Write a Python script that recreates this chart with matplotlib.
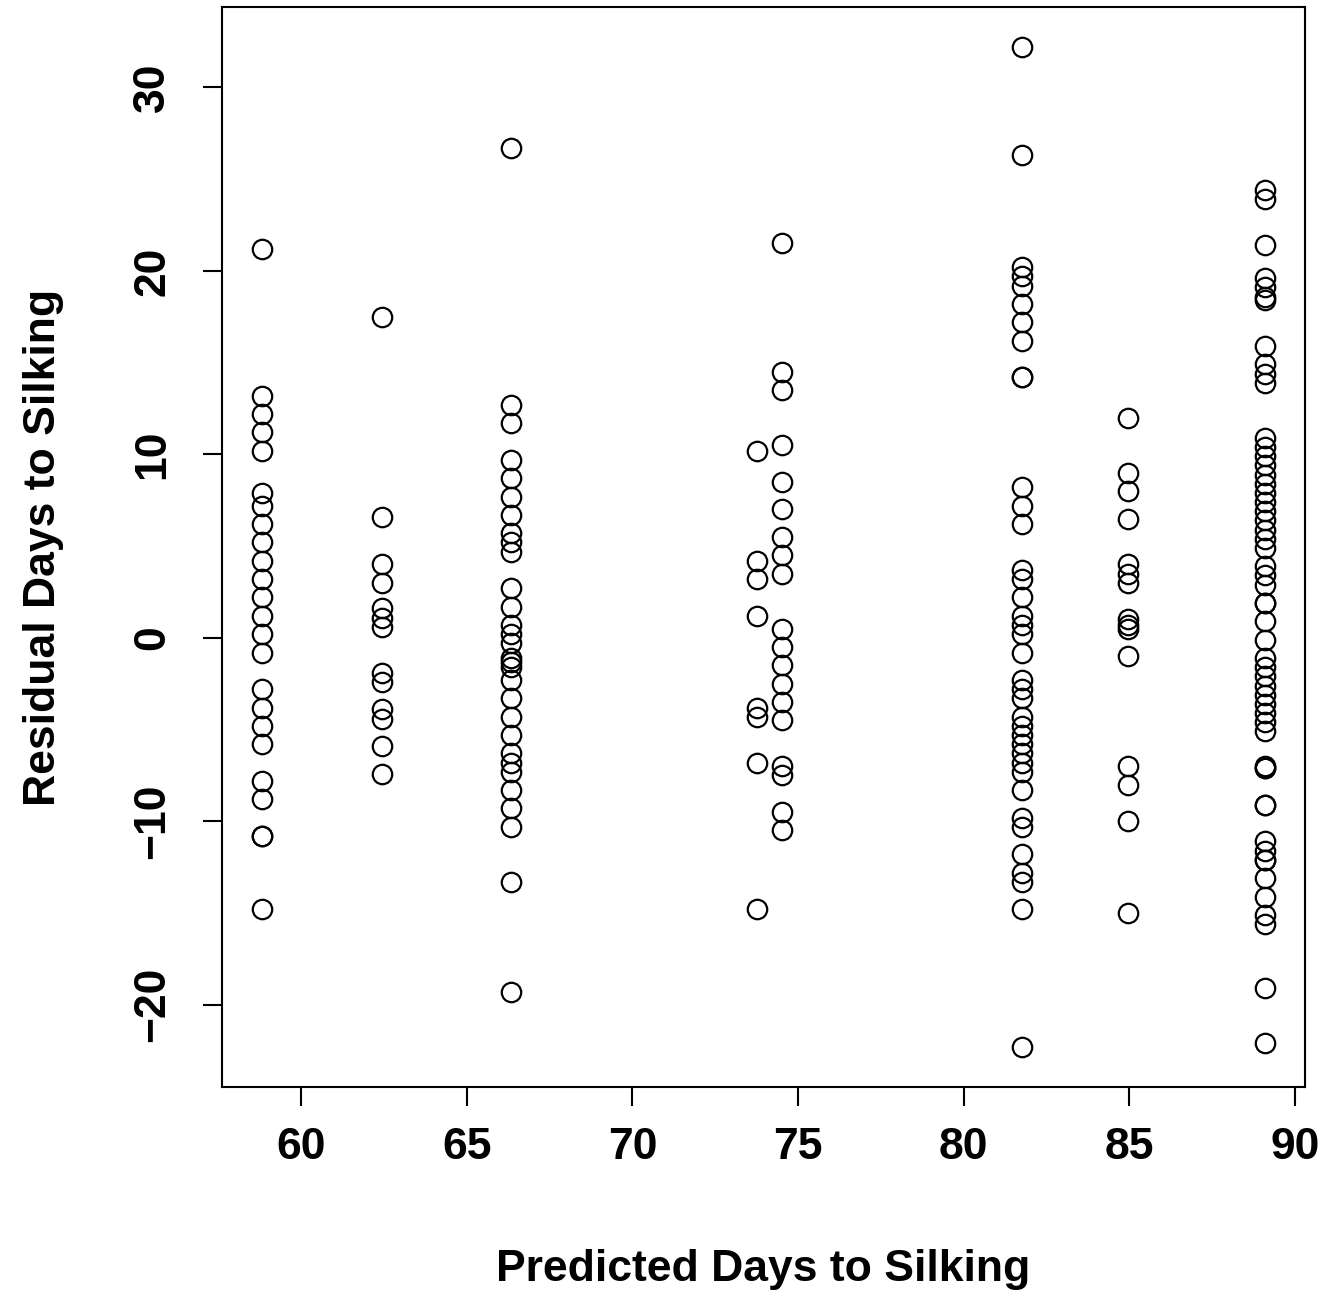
import matplotlib
matplotlib.use('Agg')
import matplotlib.pyplot as plt
import numpy as np

plt.rcParams['font.family'] = ['Liberation Sans', 'DejaVu Sans']
plt.rcParams['font.weight'] = 'bold'

# predicted values (one column of residuals each)
pred = [58.82, 62.45, 66.32, 73.76, 74.51, 81.77, 84.97, 89.09]

res_588 = [21.2, 13.2, 12.2, 11.2, 10.2, 7.9, 7.2, 6.2, 5.2, 4.2, 3.2, 2.2, 1.2, 0.2,
           -0.8, -2.8, -3.8, -4.8, -5.8, -7.8, -8.8, -10.8, -10.8, -14.8]
res_625 = [17.5, 6.6, 4.0, 3.0, 1.6, 1.1, 0.6, -1.9, -2.4, -3.9, -4.4, -5.9, -7.4]
res_663 = [26.7, 12.7, 11.7, 9.7, 8.7, 7.7, 6.7, 5.7, 5.2, 4.7, 2.7, 1.7, 0.7, 0.2,
           -0.3, -1.1, -1.3, -1.6, -2.3, -3.3, -4.3, -5.3, -6.3, -6.8, -7.3, -8.3,
           -9.3, -10.3, -13.3, -19.3]
res_738 = [10.2, 4.2, 3.2, 1.2, -3.8, -4.3, -6.8, -14.8]
res_745 = [21.5, 14.5, 13.5, 10.5, 8.5, 7.0, 5.5, 4.5, 3.5, 0.5, -0.5, -1.5, -2.5,
           -3.5, -4.5, -7.0, -7.5, -9.5, -10.5]
res_818 = [32.2, 26.3, 20.2, 19.7, 19.2, 18.2, 17.2, 16.2, 14.2, 14.2, 8.2, 7.2, 6.2,
           3.7, 3.2, 2.2, 1.2, 0.7, 0.2, -0.8, -2.3, -2.8, -3.3, -4.3, -4.8, -5.3,
           -5.8, -6.3, -6.8, -7.3, -8.3, -9.8, -10.3, -11.8, -12.8, -13.3, -14.8, -22.3]
res_850 = [12.0, 9.0, 8.0, 6.5, 4.0, 3.5, 3.0, 1.0, 0.7, 0.5, -1.0, -7.0, -8.0, -10.0, -15.0]
res_891 = [24.4, 23.9, 21.4, 19.6, 19.1, 18.6, 18.4, 15.9, 14.9, 14.4, 13.9, 10.9, 10.4,
           9.9, 9.4, 8.9, 8.4, 7.9, 7.4, 6.9, 6.4, 5.9, 5.4, 4.9, 3.9, 3.4, 2.9, 1.9,
           1.9, 0.9, -0.1, -1.1, -1.6, -2.1, -2.6, -3.1, -3.6, -4.1, -4.6, -5.1, -7.0,
           -7.1, -7.1, -9.1, -9.1, -11.1, -11.6, -12.1, -12.1, -13.1, -14.1, -15.1,
           -15.6, -19.1, -22.1]

residuals = [res_588, res_625, res_663, res_738, res_745, res_818, res_850, res_891]

x = np.concatenate([[p] * len(r) for p, r in zip(pred, residuals)])
y = np.concatenate(residuals)

W, H = 1326, 1308
fig = plt.figure(figsize=(W / 100, H / 100), dpi=100)
ax = fig.add_axes([222 / W, 1 - 1087 / H, (1305 - 222) / W, (1087 - 7) / H])

ax.plot(x, y, linestyle='none', marker='o', markersize=14, markerfacecolor='none',
        markeredgecolor='black', markeredgewidth=1.6)

# R style 4% padding
xr = x.max() - x.min()
yr = y.max() - y.min()
ax.set_xlim(x.min() - 0.04 * xr, x.max() + 0.04 * xr)
ax.set_ylim(y.min() - 0.04 * yr, y.max() + 0.04 * yr)

ax.set_xticks([60, 65, 70, 75, 80, 85, 90])
ax.set_yticks([-20, -10, 0, 10, 20, 30])
ax.tick_params(axis='both', length=14, width=1.5, labelsize=32, pad=15)
ax.tick_params(axis='y', pad=21)
for lab in ax.get_yticklabels():
    lab.set_rotation(90)
    lab.set_va('center')
for s in ax.spines.values():
    s.set_linewidth(1.5)

fig.text(763.5 / W, 1 - 1270 / H, 'Predicted Days to Silking', ha='center', va='center',
         fontsize=32, fontweight='bold')
fig.text(44 / W, 1 - 547 / H, 'Residual Days to Silking', ha='center', va='center',
         rotation=90, fontsize=32, fontweight='bold')

fig.savefig('out.png', dpi=100)
